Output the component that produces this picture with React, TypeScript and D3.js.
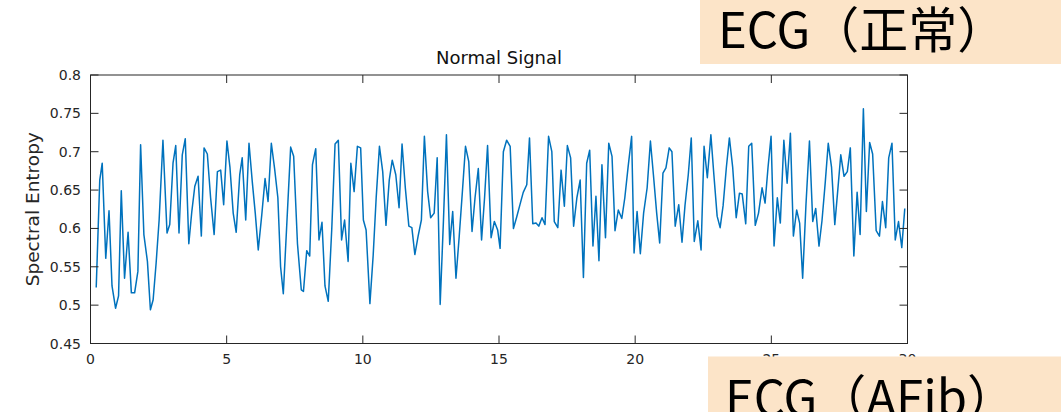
import React from "react";
import * as d3 from "d3";

const times: number[] = [
  0.21, 0.34, 0.43, 0.56, 0.68, 0.79, 0.92, 1.03, 1.13, 1.25, 1.38, 1.5, 1.62, 1.74, 1.84, 1.96, 2.09, 2.2, 2.3, 2.41,
  2.52, 2.66, 2.81, 2.91, 3.03, 3.13, 3.25, 3.37, 3.48, 3.61, 3.72, 3.83, 3.95, 4.07, 4.17, 4.29, 4.41, 4.54, 4.66, 4.78,
  4.89, 5.01, 5.12, 5.24, 5.35, 5.48, 5.57, 5.7, 5.82, 5.94, 6.05, 6.16, 6.29, 6.41, 6.52, 6.64, 6.76, 6.88, 6.98, 7.08,
  7.2, 7.35, 7.46, 7.6, 7.74, 7.82, 7.94, 8.05, 8.15, 8.27, 8.39, 8.5, 8.61, 8.73, 8.86, 8.98, 9.1, 9.22, 9.33, 9.46,
  9.56, 9.68, 9.8, 9.92, 10.02, 10.12, 10.26, 10.38, 10.49, 10.61, 10.73, 10.85, 10.97, 11.08, 11.21, 11.33, 11.44, 11.56, 11.69, 11.8,
  11.91, 12.03, 12.15, 12.26, 12.38, 12.49, 12.62, 12.73, 12.84, 12.96, 13.07, 13.19, 13.3, 13.42, 13.54, 13.66, 13.77, 13.89, 14.01, 14.12,
  14.24, 14.36, 14.47, 14.58, 14.71, 14.83, 14.95, 15.04, 15.16, 15.28, 15.41, 15.53, 15.65, 15.77, 15.89, 16.02, 16.12, 16.24, 16.36, 16.46,
  16.58, 16.69, 16.82, 16.94, 17.03, 17.16, 17.28, 17.4, 17.51, 17.63, 17.74, 17.86, 17.98, 18.1, 18.22, 18.33, 18.45, 18.56, 18.67, 18.78,
  18.91, 19.03, 19.15, 19.26, 19.38, 19.51, 19.62, 19.74, 19.87, 19.96, 20.07, 20.19, 20.31, 20.44, 20.56, 20.67, 20.79, 20.9, 21.02, 21.13,
  21.25, 21.35, 21.47, 21.6, 21.72, 21.83, 21.95, 22.06, 22.17, 22.3, 22.42, 22.53, 22.65, 22.78, 22.89, 23.01, 23.12, 23.23, 23.35, 23.46,
  23.58, 23.71, 23.83, 23.93, 24.06, 24.17, 24.28, 24.41, 24.53, 24.66, 24.77, 24.88, 24.99, 25.1, 25.22, 25.33, 25.46, 25.58, 25.7, 25.81,
  25.93, 26.04, 26.15, 26.27, 26.4, 26.52, 26.63, 26.75, 26.86, 26.98, 27.09, 27.21, 27.33, 27.44, 27.55, 27.67, 27.79, 27.9, 28.03, 28.15,
  28.26, 28.38, 28.49, 28.61, 28.72, 28.85, 28.97, 29.08, 29.2, 29.31, 29.43, 29.55, 29.67, 29.79, 29.9,
];

const entropy: number[] = [
  0.523, 0.663, 0.685, 0.561, 0.623, 0.525, 0.496, 0.512, 0.649, 0.535, 0.595, 0.516, 0.516, 0.544, 0.709, 0.592, 0.557, 0.494, 0.507, 0.555,
  0.611, 0.715, 0.594, 0.605, 0.685, 0.708, 0.594, 0.696, 0.717, 0.58, 0.622, 0.655, 0.668, 0.59, 0.705, 0.697, 0.64, 0.592, 0.674, 0.676,
  0.631, 0.714, 0.68, 0.62, 0.595, 0.67, 0.692, 0.611, 0.711, 0.661, 0.62, 0.572, 0.618, 0.665, 0.635, 0.711, 0.678, 0.64, 0.55, 0.515,
  0.6, 0.706, 0.694, 0.58, 0.52, 0.518, 0.571, 0.564, 0.683, 0.704, 0.585, 0.608, 0.525, 0.505, 0.6, 0.71, 0.715, 0.585, 0.611, 0.557,
  0.685, 0.648, 0.707, 0.705, 0.611, 0.598, 0.502, 0.565, 0.64, 0.707, 0.674, 0.604, 0.663, 0.689, 0.67, 0.627, 0.71, 0.653, 0.603, 0.601,
  0.566, 0.59, 0.611, 0.72, 0.648, 0.614, 0.62, 0.692, 0.501, 0.61, 0.722, 0.579, 0.622, 0.535, 0.59, 0.65, 0.707, 0.687, 0.596, 0.64,
  0.678, 0.585, 0.64, 0.708, 0.588, 0.609, 0.598, 0.574, 0.7, 0.715, 0.707, 0.6, 0.615, 0.631, 0.647, 0.657, 0.718, 0.606, 0.607, 0.603,
  0.614, 0.605, 0.72, 0.7, 0.609, 0.601, 0.676, 0.629, 0.708, 0.692, 0.603, 0.64, 0.663, 0.536, 0.685, 0.702, 0.577, 0.642, 0.558, 0.683,
  0.588, 0.711, 0.694, 0.597, 0.624, 0.613, 0.64, 0.68, 0.72, 0.568, 0.622, 0.567, 0.62, 0.653, 0.714, 0.67, 0.62, 0.581, 0.672, 0.679,
  0.705, 0.7, 0.603, 0.631, 0.582, 0.63, 0.67, 0.718, 0.583, 0.61, 0.572, 0.707, 0.666, 0.722, 0.67, 0.616, 0.601, 0.63, 0.68, 0.718,
  0.68, 0.614, 0.646, 0.645, 0.606, 0.707, 0.711, 0.604, 0.62, 0.653, 0.633, 0.68, 0.72, 0.577, 0.64, 0.607, 0.715, 0.659, 0.724, 0.59,
  0.624, 0.607, 0.535, 0.63, 0.714, 0.609, 0.626, 0.577, 0.61, 0.66, 0.711, 0.68, 0.605, 0.65, 0.696, 0.668, 0.674, 0.705, 0.564, 0.647,
  0.592, 0.756, 0.622, 0.712, 0.697, 0.597, 0.59, 0.635, 0.601, 0.692, 0.711, 0.585, 0.609, 0.575, 0.626,
];

const xTicks: number[] = [0, 5, 10, 15, 20, 25, 30];
const yTicks: number[] = [0.45, 0.5, 0.55, 0.6, 0.65, 0.7, 0.75, 0.8];
const yTickLabels: string[] = ["0.45", "0.5", "0.55", "0.6", "0.65", "0.7", "0.75", "0.8"];

const title = "Normal Signal";
const yLabel = "Spectral Entropy";
const boxLabels: string[] = ["ECG（正常）", "ECG（AFib）"];

const W = 1061;
const H = 412;
const L = 90.5, R = 907.5, T = 75, B = 343.5;
const TICK = 8;
const AX = "#262626";
const FONT = "'DejaVu Sans', sans-serif";
const JP = "'Noto Sans CJK JP', sans-serif";

export default function App() {
  const x = d3.scaleLinear().domain([0, 30]).range([L, R]);
  const y = d3.scaleLinear().domain([0.45, 0.8]).range([B, T]);
  const pts: [number, number][] = times.map((t, i) => [t, entropy[i]]);
  const line = d3
    .line<[number, number]>()
    .x((d) => x(d[0]))
    .y((d) => y(d[1]));

  return (
    <svg
      width={W}
      height={H}
      style={{ position: "absolute", left: 0, top: 0, background: "#fff" }}
    >
      <rect x={0} y={0} width={W} height={H} fill="#fff" />
      <text x={(L + R) / 2} y={64} textAnchor="middle" fontFamily={FONT} fontSize={18} fill="#111">
        {title}
      </text>
      <text
        transform={`translate(39, ${(T + B) / 2}) rotate(-90)`}
        textAnchor="middle"
        fontFamily={FONT}
        fontSize={18.5}
        fill={AX}
      >
        {yLabel}
      </text>
      <path d={line(pts) || ""} fill="none" stroke="#0072BD" strokeWidth={1.5} strokeLinejoin="round" />
      <g stroke={AX} strokeWidth={1}>
        {xTicks.map((t) => (
          <g key={"xt" + t}>
            <line x1={x(t)} x2={x(t)} y1={B} y2={B - TICK} />
            <line x1={x(t)} x2={x(t)} y1={T} y2={T + TICK} />
          </g>
        ))}
        {yTicks.map((v) => (
          <g key={"yt" + v}>
            <line x1={L} x2={L + TICK} y1={y(v)} y2={y(v)} />
            <line x1={R} x2={R - TICK} y1={y(v)} y2={y(v)} />
          </g>
        ))}
        <rect x={L} y={T} width={R - L} height={B - T} fill="none" />
      </g>
      {xTicks.map((t) => (
        <text key={"xl" + t} x={x(t)} y={364} textAnchor="middle" fontFamily={FONT} fontSize={14} fill={AX}>
          {t}
        </text>
      ))}
      {yTicks.map((v, i) => (
        <text
          key={"yl" + v}
          x={81}
          y={y(v)}
          dy="0.36em"
          textAnchor="end"
          fontFamily={FONT}
          fontSize={14}
          fill={AX}
        >
          {yTickLabels[i]}
        </text>
      ))}
      <rect x={700} y={0} width={W - 700} height={64} fill="#FCE4C8" />
      <text x={718} y={48} fontFamily={JP} fontSize={49} fill="#000">
        {boxLabels[0]}
      </text>
      <rect x={708} y={356.5} width={W - 708} height={H - 356.5} fill="#FCE4C8" />
      <text x={725} y={416} fontFamily={JP} fontSize={49} fill="#000">
        {boxLabels[1]}
      </text>
    </svg>
  );
}
